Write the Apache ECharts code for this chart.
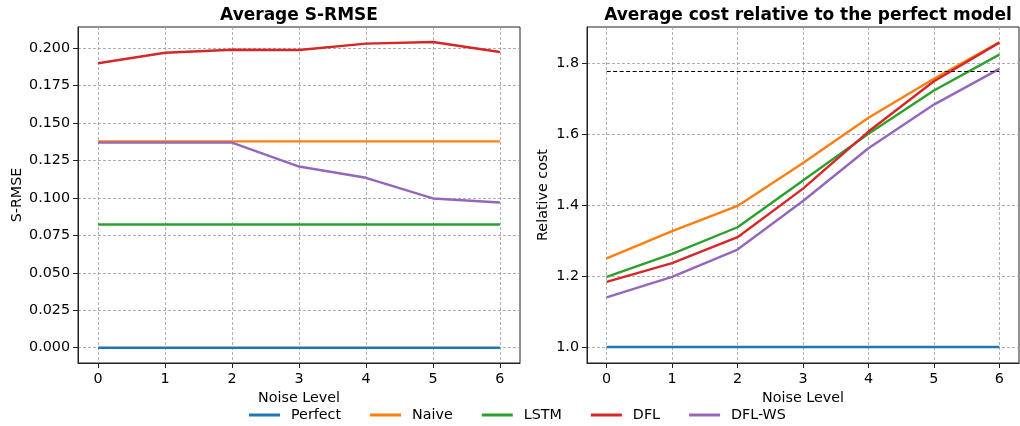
<!DOCTYPE html>
<html>
<head>
<meta charset="utf-8">
<script src="https://cdn.jsdelivr.net/npm/echarts@6/dist/echarts.min.js"></script>
<style>
  html, body { margin: 0; padding: 0; background: #fff; }
  #chart { width: 1020px; height: 426px; }
</style>
</head>
<body>
<div id="chart"></div>
<script>
// Noise levels on the x axis of both panels
const noiseLevels = [0, 1, 2, 3, 4, 5, 6];

// Average S-RMSE per model
const srmsePerfect = [0, 0, 0, 0, 0, 0, 0];
const srmseNaive   = [0.1378, 0.1378, 0.1378, 0.1378, 0.1378, 0.1378, 0.1378];
const srmseLSTM    = [0.0823, 0.0823, 0.0823, 0.0823, 0.0823, 0.0823, 0.0823];
const srmseDFL     = [0.190, 0.197, 0.199, 0.1988, 0.2031, 0.2042, 0.1975];
const srmseDFLWS   = [0.137, 0.137, 0.137, 0.121, 0.1135, 0.0997, 0.097];

// Average cost relative to the perfect model
const costPerfect = [1, 1, 1, 1, 1, 1, 1];
const costNaive   = [1.250, 1.327, 1.398, 1.519, 1.647, 1.757, 1.860];
const costLSTM    = [1.198, 1.263, 1.338, 1.470, 1.602, 1.724, 1.825];
const costDFL     = [1.184, 1.237, 1.310, 1.447, 1.608, 1.750, 1.859];
const costDFLWS   = [1.140, 1.198, 1.275, 1.412, 1.561, 1.684, 1.785];
const costReference = 1.777;

// Tick labels
const xTicks = [0, 1, 2, 3, 4, 5, 6];
const srmseTicks = [0, 0.025, 0.05, 0.075, 0.1, 0.125, 0.15, 0.175, 0.2];
const costTicks = [1.0, 1.2, 1.4, 1.6, 1.8];

const modelNames = ['Perfect', 'Naive', 'LSTM', 'DFL', 'DFL-WS'];
const colors = ['#1f77b4', '#ff7f0e', '#2ca02c', '#d62728', '#9467bd'];

const FONT = 'DejaVu Sans';
const FS = 14.3;
const gridLine = { show: true, lineStyle: { color: '#9a9a9a', width: 0.8, type: [3, 2] } };

function xAxisFor(gridIndex) {
  return {
    type: 'value', gridIndex, min: -0.3, max: 6.3,
    name: 'Noise Level', nameLocation: 'middle', nameGap: 28,
    nameTextStyle: { fontFamily: FONT, fontSize: FS, color: '#000' },
    axisLine: { show: true, onZero: false, lineStyle: { color: '#222', width: 1 } },
    axisTick: { show: true, length: 5, inside: false, customValues: xTicks, lineStyle: { color: '#222' } },
    axisLabel: { customValues: xTicks, margin: 9, fontFamily: FONT, fontSize: FS, color: '#000' },
    splitLine: gridLine
  };
}

function yAxisFor(gridIndex, name, min, max, ticks, digits, nameGap) {
  return {
    type: 'value', gridIndex, min, max,
    name, nameLocation: 'middle', nameGap,
    nameTextStyle: { fontFamily: FONT, fontSize: FS, color: '#000' },
    axisLine: { show: true, onZero: false, lineStyle: { color: '#222', width: 1 } },
    axisTick: { show: true, length: 5, inside: false, customValues: ticks, lineStyle: { color: '#222' } },
    axisLabel: {
      customValues: ticks, margin: 8, fontFamily: FONT, fontSize: FS, color: '#000',
      formatter: v => Number(v).toFixed(digits)
    },
    splitLine: gridLine
  };
}

function lineSeries(name, values, colorIndex, xIdx, yIdx) {
  return {
    name, type: 'line', xAxisIndex: xIdx, yAxisIndex: yIdx,
    data: noiseLevels.map((x, i) => [x, values[i]]),
    symbol: 'none', showSymbol: false,
    lineStyle: { color: colors[colorIndex], width: 2.4 },
    itemStyle: { color: colors[colorIndex] },
    emphasis: { disabled: true }, animation: false
  };
}

const srmseSets = [srmsePerfect, srmseNaive, srmseLSTM, srmseDFL, srmseDFLWS];
const costSets = [costPerfect, costNaive, costLSTM, costDFL, costDFLWS];

const series = [];
srmseSets.forEach((vals, i) => series.push(lineSeries(modelNames[i], vals, i, 0, 0)));
costSets.forEach((vals, i) => series.push(lineSeries(modelNames[i], vals, i, 1, 1)));

// Dashed reference level in the cost panel
series.push({
  name: 'reference', type: 'line', xAxisIndex: 1, yAxisIndex: 1, data: [],
  markLine: {
    silent: true, symbol: 'none', animation: false,
    label: { show: false },
    lineStyle: { color: '#000', width: 1.1, type: [4, 2.5] },
    data: [[{ coord: [0, costReference] }, { coord: [6, costReference] }]]
  }
});

const chart = echarts.init(document.getElementById('chart'), null, { renderer: 'canvas' });
chart.setOption({
  backgroundColor: '#fff',
  animation: false,
  title: [
    { text: 'Average S-RMSE', left: 299, top: 7, padding: 0, textAlign: 'center',
      textStyle: { fontFamily: FONT, fontSize: 17, fontWeight: 'bold', color: '#000' } },
    { text: 'Average cost relative to the perfect model', left: 808, top: 7, padding: 0, textAlign: 'center',
      textStyle: { fontFamily: FONT, fontSize: 17, fontWeight: 'bold', color: '#000' } }
  ],
  grid: [
    { left: 78, right: 500, top: 27, bottom: 63, show: true, borderColor: '#222', borderWidth: 1, backgroundColor: 'transparent' },
    { left: 587, right: 1, top: 27, bottom: 63, show: true, borderColor: '#222', borderWidth: 1, backgroundColor: 'transparent' }
  ],
  xAxis: [xAxisFor(0), xAxisFor(1)],
  yAxis: [
    yAxisFor(0, 'S-RMSE', -0.0102, 0.2142, srmseTicks, 3, 54),
    yAxisFor(1, 'Relative cost', 0.955, 1.903, costTicks, 1, 37)
  ],
  legend: {
    data: modelNames, left: 249, top: 408, padding: 0,
    icon: 'rect', itemWidth: 31, itemHeight: 3, itemGap: 29,
    textStyle: { fontFamily: FONT, fontSize: FS, color: '#000', padding: [0, 0, 0, 6] },
    selectedMode: false
  },
  series
});
</script>
</body>
</html>
